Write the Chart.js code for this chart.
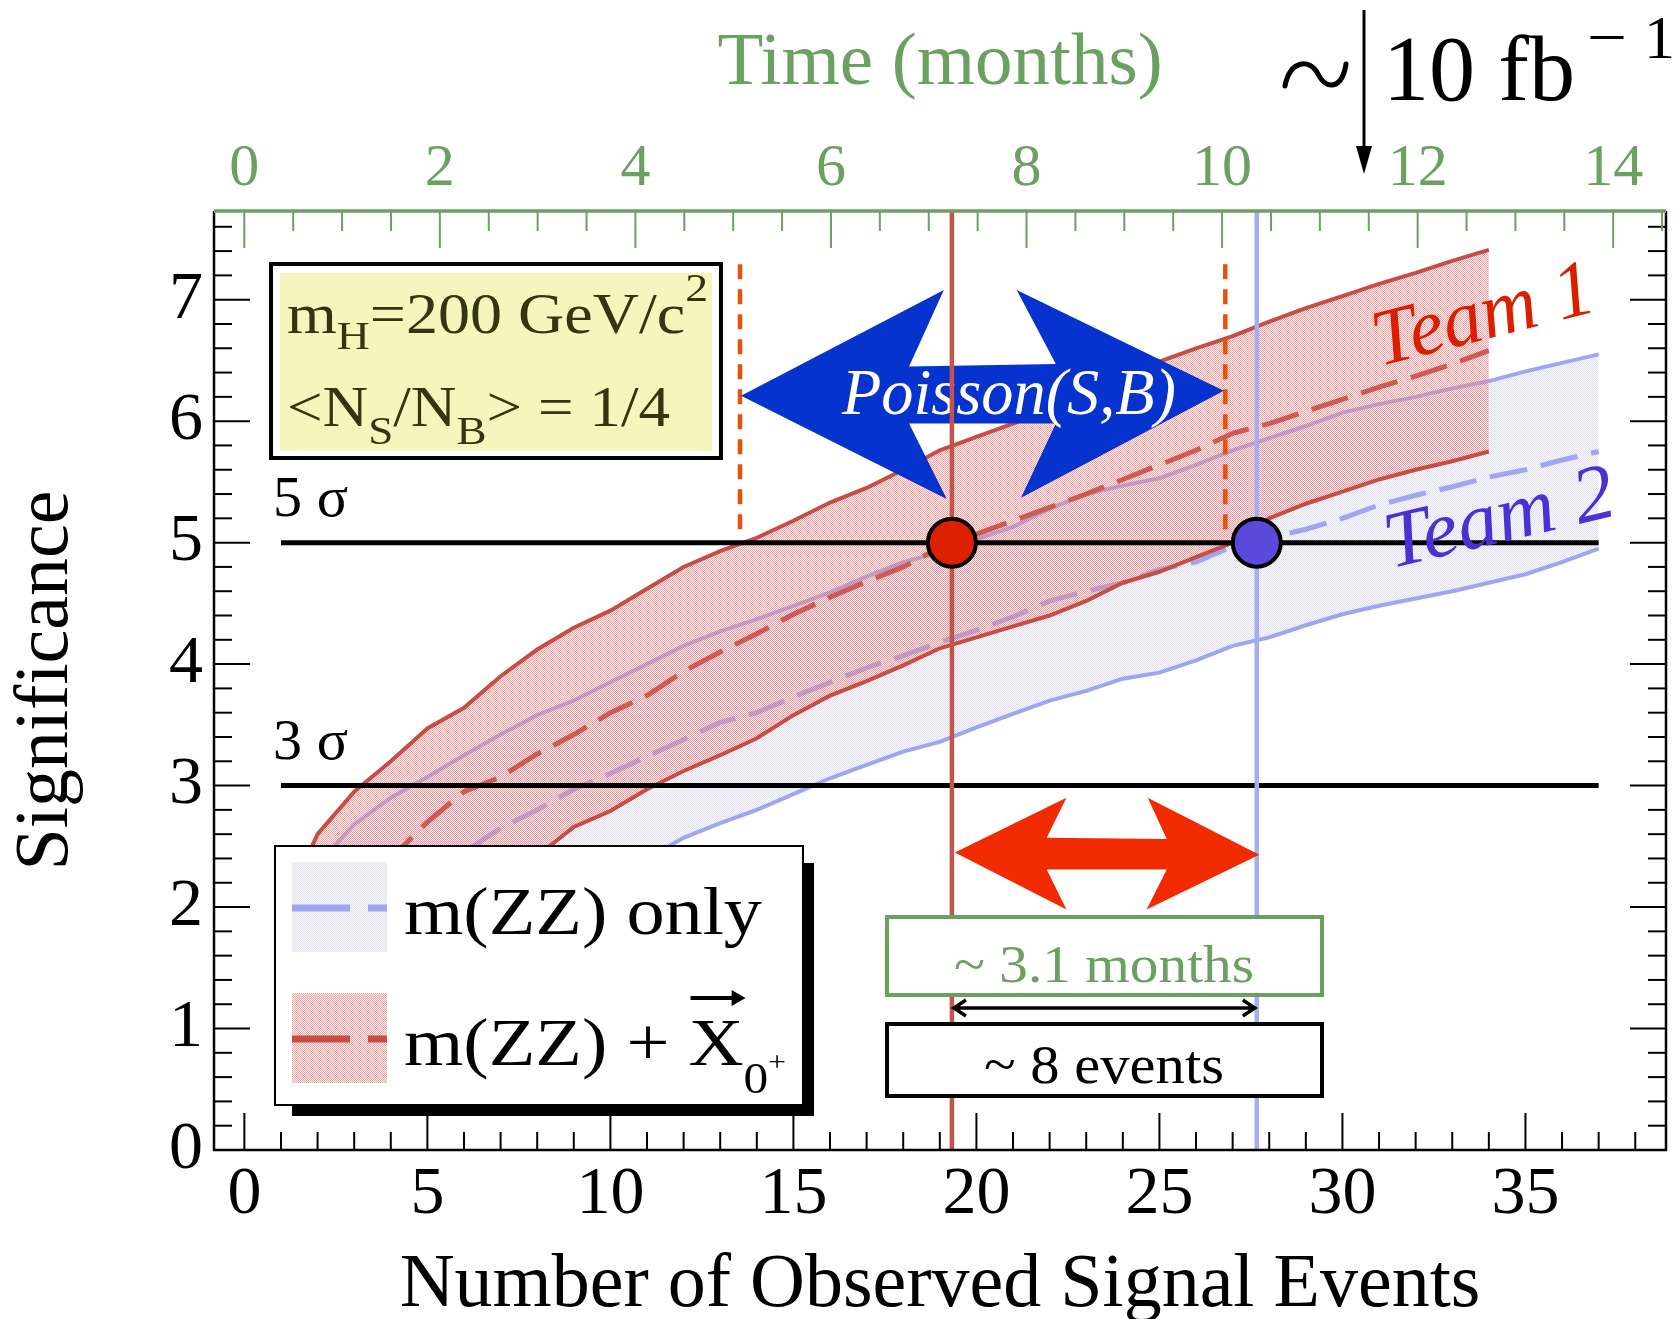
<!DOCTYPE html>
<html>
<head>
<meta charset="utf-8">
<title>Significance vs number of observed signal events</title>
<script src="https://cdn.jsdelivr.net/npm/chart.js@4.4.1/dist/chart.umd.min.js"></script>
<style>
  html, body { margin: 0; padding: 0; background: #fff; }
  #wrap { width: 1677px; height: 1319px; }
</style>
</head>
<body>
<div id="wrap"><canvas id="chart" width="1677" height="1319"></canvas></div>
<script>
// ---- data (x = observed signal events, y = significance) ----
const EVENTS_RED = [1,2,3,4,5,6,7,8,9,10,11,12,13,14,15,16,17,18,19,20,21,22,23,24,25,26,27,28,29,30,31,32,33,34];
const RED_UPPER  = [1.95,2.60,2.95,3.20,3.47,3.64,3.90,4.12,4.30,4.44,4.62,4.80,4.93,5.04,5.18,5.33,5.45,5.60,5.76,5.87,5.98,6.10,6.22,6.36,6.49,6.60,6.70,6.82,6.93,7.03,7.13,7.22,7.32,7.41];
const RED_MEDIAN = [1.40,1.75,2.10,2.40,2.70,2.95,3.07,3.26,3.42,3.60,3.74,3.94,4.10,4.25,4.41,4.55,4.68,4.80,4.96,5.07,5.18,5.29,5.40,5.52,5.64,5.76,5.90,5.98,6.08,6.18,6.28,6.37,6.47,6.58];
const RED_LOWER  = [0.90,1.15,1.40,1.60,1.80,2.00,2.20,2.42,2.66,2.79,2.97,3.12,3.25,3.39,3.58,3.74,3.86,3.99,4.13,4.22,4.31,4.40,4.52,4.67,4.76,4.88,5.00,5.20,5.32,5.42,5.52,5.60,5.67,5.75];

const EVENTS_BLUE = [1,2,3,4,5,6,7,8,9,10,11,12,13,14,15,16,17,18,19,20,21,22,23,24,25,26,27,28,29,30,31,32,33,34,35,36,37];
const BLUE_UPPER  = [1.85,2.35,2.68,2.90,3.07,3.25,3.42,3.58,3.70,3.85,4.00,4.15,4.27,4.37,4.48,4.59,4.72,4.84,4.92,5.03,5.13,5.28,5.40,5.47,5.53,5.64,5.76,5.86,5.96,6.07,6.14,6.20,6.27,6.33,6.41,6.48,6.55];
const BLUE_MEDIAN = [1.00,1.35,1.65,1.95,2.20,2.45,2.65,2.80,2.97,3.10,3.24,3.38,3.52,3.60,3.73,3.85,3.97,4.07,4.18,4.28,4.39,4.52,4.60,4.67,4.78,4.84,4.97,5.04,5.11,5.20,5.31,5.39,5.46,5.54,5.60,5.68,5.75];
const BLUE_LOWER  = [0.60,0.75,0.90,1.05,1.20,1.35,1.50,1.70,1.90,2.10,2.40,2.57,2.69,2.80,2.93,3.06,3.17,3.28,3.36,3.48,3.59,3.70,3.78,3.88,3.93,4.03,4.15,4.22,4.32,4.41,4.48,4.54,4.60,4.67,4.74,4.84,4.95];

const SIGMA_SPAN = [1, 37];          // events range of the 3/5 sigma lines
const CROSS_EVENTS = [19.33, 27.66]; // team 1 / team 2 reach 5 sigma
const POISSON_EDGES = [13.54, 26.8]; // orange dashed markers
const POISSON_SIG = [5.11, 7.36];

// double arrows (events, significance)
const POISSON_ARROW_X = [13.57, 19.11, 18.16, 22.17, 21.10, 26.76, 21.22, 22.17, 18.16, 19.19];
const POISSON_ARROW_Y = [6.21, 7.08, 6.45, 6.47, 7.08, 6.25, 5.37, 5.98, 5.98, 5.36];
const GAP_ARROW_X = [19.41, 22.46, 21.92, 25.20, 24.68, 27.73, 24.65, 25.20, 21.92, 22.46];
const GAP_ARROW_Y = [2.45, 2.90, 2.57, 2.56, 2.90, 2.43, 1.98, 2.31, 2.31, 1.98];

// axes
const EVENT_TICKS = [0, 5, 10, 15, 20, 25, 30, 35];
const MONTH_TICKS = [0, 2, 4, 6, 8, 10, 12, 14];
const SIG_TICKS = [0, 1, 2, 3, 4, 5, 6, 7];
const EV_MIN = -0.83, EV_MAX = 38.84;
const MO_MIN = -0.31, MO_MAX = 14.54;
const SIG_MAX = 7.73;

// ---- styles ----
const FONT = '"Liberation Serif", "Times New Roman", serif';
const GREEN = 'rgb(106,160,96)';
const RED_LINE = 'rgb(198,78,68)';
const BLUE_LINE = 'rgb(158,166,240)';

function dotPattern(dot, bg) {
  const c = document.createElement('canvas');
  c.width = 2; c.height = 2;
  const g = c.getContext('2d');
  g.fillStyle = bg; g.fillRect(0, 0, 2, 2);
  g.fillStyle = dot; g.fillRect(0, 0, 1, 1); g.fillRect(1, 1, 1, 1);
  return g.createPattern(c, 'repeat');
}
const RED_FILL = dotPattern('rgba(232,125,125,0.65)', 'rgba(240,175,175,0.2)');
const BLUE_FILL = dotPattern('rgba(214,214,232,0.7)', 'rgba(236,236,245,0.3)');

const pts = (xs, ys) => xs.map((x, i) => ({ x, y: ys[i] }));

function fitText(ctx, text, x, y, o) {
  ctx.save();
  ctx.font = `${o.style || ''} ${o.size}px ${FONT}`;
  const w = ctx.measureText(text).width;
  ctx.translate(x, y);
  if (o.rotate) ctx.rotate(o.rotate);
  ctx.scale(o.width ? o.width / w : 1, 1);
  ctx.fillStyle = o.color || '#000';
  ctx.textAlign = o.align || 'center';
  ctx.textBaseline = o.baseline || 'alphabetic';
  ctx.fillText(text, 0, 0);
  ctx.restore();
}

// draws runs of text (sub/superscripts) squeezed to a width, returns x extent of each run
function drawRuns(ctx, runs, x, y, width, color) {
  ctx.save();
  let total = 0;
  const widths = runs.map(r => {
    ctx.font = `${r.size}px ${FONT}`;
    const w = ctx.measureText(r.t).width;
    total += w;
    return w;
  });
  const sx = width / total;
  ctx.translate(x, y);
  ctx.scale(sx, 1);
  ctx.fillStyle = color;
  ctx.textBaseline = 'alphabetic';
  let cx = 0;
  const pos = [];
  runs.forEach((r, i) => {
    ctx.font = `${r.size}px ${FONT}`;
    pos.push([x + cx * sx, x + (cx + widths[i]) * sx]);
    ctx.fillText(r.t, cx, r.dy || 0);
    cx += widths[i];
  });
  ctx.restore();
  return pos;
}

const base = { showLine: true, pointRadius: 0, tension: 0, fill: false };

const datasets = [
  { ...base, label: 'm(ZZ) only +1σ', data: pts(EVENTS_BLUE, BLUE_UPPER), borderColor: BLUE_LINE, borderWidth: 4, fill: 1, backgroundColor: BLUE_FILL, order: 20 },
  { ...base, label: 'm(ZZ) only -1σ', data: pts(EVENTS_BLUE, BLUE_LOWER), borderColor: BLUE_LINE, borderWidth: 4, order: 19 },
  { ...base, label: 'm(ZZ) only', data: pts(EVENTS_BLUE, BLUE_MEDIAN), borderColor: BLUE_LINE, borderWidth: 5, borderDash: [38, 14], order: 18 },
  { ...base, label: 'm(ZZ)+X +1σ', data: pts(EVENTS_RED, RED_UPPER), borderColor: RED_LINE, borderWidth: 4, fill: 4, backgroundColor: RED_FILL, order: 17 },
  { ...base, label: 'm(ZZ)+X -1σ', data: pts(EVENTS_RED, RED_LOWER), borderColor: RED_LINE, borderWidth: 4, order: 16 },
  { ...base, label: 'm(ZZ)+X', data: pts(EVENTS_RED, RED_MEDIAN), borderColor: 'rgb(206,90,84)', borderWidth: 5, borderDash: [38, 14], order: 15 },
  { ...base, label: '5 sigma', data: pts(SIGMA_SPAN, [5, 5]), borderColor: '#000', borderWidth: 5, order: 14 },
  { ...base, label: '3 sigma', data: pts(SIGMA_SPAN, [3, 3]), borderColor: '#000', borderWidth: 5, order: 13 },
  { ...base, label: 'poisson low', data: pts([POISSON_EDGES[0], POISSON_EDGES[0]], POISSON_SIG), borderColor: 'rgb(228,82,12)', borderWidth: 4.5, borderDash: [15, 10], order: 12 },
  { ...base, label: 'poisson high', data: pts([POISSON_EDGES[1], POISSON_EDGES[1]], POISSON_SIG), borderColor: 'rgb(228,82,12)', borderWidth: 4.5, borderDash: [15, 10], order: 11 },
  { ...base, label: 'Poisson(S,B)', showLine: false, data: pts(POISSON_ARROW_X, POISSON_ARROW_Y), polyFill: 'rgb(6,50,205)', order: 10 },
  { ...base, label: 'team 1 line', data: pts([CROSS_EVENTS[0], CROSS_EVENTS[0]], [0, SIG_MAX]), borderColor: 'rgb(196,84,74)', borderWidth: 4.5, order: 9 },
  { ...base, label: 'team 2 line', data: pts([CROSS_EVENTS[1], CROSS_EVENTS[1]], [0, SIG_MAX]), borderColor: 'rgb(164,172,244)', borderWidth: 4.5, order: 8 },
  { ...base, label: 'gap', showLine: false, data: pts(GAP_ARROW_X, GAP_ARROW_Y), polyFill: 'rgb(242,42,0)', order: 7 },
  { ...base, label: 'team 1', showLine: false, data: pts([CROSS_EVENTS[0]], [5]), pointRadius: 24, pointBorderWidth: 4, pointBackgroundColor: 'rgb(220,32,0)', pointBorderColor: '#000', order: 6 },
  { ...base, label: 'team 2', showLine: false, data: pts([CROSS_EVENTS[1]], [5]), pointRadius: 24, pointBorderWidth: 4, pointBackgroundColor: 'rgb(90,74,220)', pointBorderColor: '#000', order: 5 }
];

// polygons (double arrows) are filled through the points laid out by the scales
const polygonPlugin = {
  id: 'polygons',
  afterDatasetDraw(chart, args) {
    const ds = chart.data.datasets[args.index];
    if (!ds.polyFill) return;
    const ctx = chart.ctx;
    const p = args.meta.data;
    ctx.save();
    ctx.beginPath();
    p.forEach((e, i) => (i ? ctx.lineTo(e.x, e.y) : ctx.moveTo(e.x, e.y)));
    ctx.closePath();
    ctx.fillStyle = ds.polyFill;
    ctx.fill();
    if (ds.label === 'Poisson(S,B)') {
      fitText(ctx, 'Poisson(S,B)', 1009, 414, { size: 66, width: 334, color: '#fff', style: 'italic' });
    }
    ctx.restore();
  }
};

// ROOT style inward ticks
const ticksPlugin = {
  id: 'rootTicks',
  beforeDatasetsDraw(chart) {
    const { ctx, chartArea: a, scales } = chart;
    const seg = (x1, y1, x2, y2) => { ctx.beginPath(); ctx.moveTo(x1, y1); ctx.lineTo(x2, y2); ctx.stroke(); };
    ctx.save();
    ctx.strokeStyle = '#000';
    ctx.lineWidth = 2;
    for (let v = 0; v <= 38; v++) {
      const x = scales.x.getPixelForValue(v);
      seg(x, a.bottom, x, a.bottom - (v % 5 === 0 ? 37 : 18));
    }
    for (let i = 0; i <= 38; i++) {
      const y = scales.y.getPixelForValue(i * 0.2);
      const len = i % 5 === 0 ? 36 : 18;
      seg(a.left, y, a.left + len, y);
      seg(a.right, y, a.right - len, y);
    }
    ctx.strokeStyle = GREEN;
    for (let i = 0; i <= 29; i++) {
      const x = scales.x2.getPixelForValue(i * 0.5);
      if (x < a.left || x > a.right) continue;
      seg(x, a.top, x, a.top + (i % 4 === 0 ? 37 : 20));
    }
    ctx.restore();
  }
};

const overlayPlugin = {
  id: 'overlay',
  afterDatasetsDraw(chart) {
    const { ctx, chartArea: a, scales } = chart;
    ctx.save();
    // frame
    ctx.strokeStyle = '#000';
    ctx.lineWidth = 2.5;
    ctx.beginPath();
    ctx.moveTo(a.left, a.top); ctx.lineTo(a.left, a.bottom);
    ctx.lineTo(a.right, a.bottom); ctx.lineTo(a.right, a.top);
    ctx.stroke();
    ctx.strokeStyle = GREEN;
    ctx.lineWidth = 3.5;
    ctx.beginPath(); ctx.moveTo(a.left, a.top); ctx.lineTo(a.right, a.top); ctx.stroke();

    // sigma labels
    [5, 3].forEach(s => {
      fitText(ctx, s + ' σ', 273, scales.y.getPixelForValue(s) - 27, { size: 56, width: 75, align: 'left' });
    });

    // parameter box
    ctx.fillStyle = '#fff';
    ctx.fillRect(269, 262, 454, 198);
    ctx.strokeStyle = '#000';
    ctx.lineWidth = 4;
    ctx.strokeRect(271, 264, 450, 194);
    ctx.fillStyle = 'rgb(247,245,190)';
    ctx.fillRect(280, 273, 432, 178);
    const olive = 'rgb(52,52,14)';
    drawRuns(ctx, [
      { t: 'm', size: 56 }, { t: 'H', size: 40, dy: 16 }, { t: '=200 GeV/c', size: 56 }, { t: '2', size: 40, dy: -32 }
    ], 287, 333, 421, olive);
    drawRuns(ctx, [
      { t: '<N', size: 56 }, { t: 'S', size: 40, dy: 18 }, { t: '/N', size: 56 }, { t: 'B', size: 40, dy: 18 }, { t: '> = 1/4', size: 56 }
    ], 287, 426, 383, olive);

    // legend
    ctx.fillStyle = '#000';
    ctx.fillRect(292, 863, 522, 253);
    ctx.fillStyle = '#fff';
    ctx.fillRect(275, 846, 528, 259);
    ctx.lineWidth = 2;
    ctx.strokeStyle = '#000';
    ctx.strokeRect(275, 846, 528, 259);
    ctx.fillStyle = BLUE_FILL; ctx.fillRect(292, 862, 95, 90);
    ctx.fillStyle = RED_FILL; ctx.fillRect(292, 993, 95, 90);
    ctx.lineWidth = 7;
    ctx.setLineDash([58, 18]);
    ctx.strokeStyle = BLUE_LINE;
    ctx.beginPath(); ctx.moveTo(292, 908); ctx.lineTo(387, 908); ctx.stroke();
    ctx.strokeStyle = RED_LINE;
    ctx.beginPath(); ctx.moveTo(292, 1039); ctx.lineTo(387, 1039); ctx.stroke();
    ctx.setLineDash([]);
    drawRuns(ctx, [{ t: 'm(ZZ) only', size: 68 }], 404, 934, 358, '#000');
    const pos = drawRuns(ctx, [
      { t: 'm(ZZ) + ', size: 68 }, { t: 'X', size: 68 }, { t: '0', size: 44, dy: 28 }, { t: '+', size: 28, dy: 6 }
    ], 404, 1065, 382, '#000');
    const [xs, xe] = pos[1];
    ctx.strokeStyle = '#000';
    ctx.fillStyle = '#000';
    ctx.lineWidth = 4;
    ctx.beginPath(); ctx.moveTo(xs + 2, 998); ctx.lineTo(xe - 4, 998); ctx.stroke();
    ctx.beginPath(); ctx.moveTo(xe + 2, 998); ctx.lineTo(xe - 12, 990); ctx.lineTo(xe - 12, 1006); ctx.closePath();
    ctx.fill();

    // gap boxes
    ctx.fillStyle = '#fff';
    ctx.fillRect(885, 915, 439, 82);
    ctx.strokeStyle = GREEN; ctx.lineWidth = 4;
    ctx.strokeRect(887, 917, 435, 78);
    fitText(ctx, '~ 3.1 months', 1104, 982, { size: 52, width: 300, color: GREEN });
    ctx.fillStyle = '#fff';
    ctx.fillRect(885, 1022, 439, 76);
    ctx.strokeStyle = '#000';
    ctx.strokeRect(887, 1024, 435, 72);
    fitText(ctx, '~ 8 events', 1104, 1083, { size: 54, width: 240 });
    // small double arrow between the boxes
    const x1 = scales.x.getPixelForValue(CROSS_EVENTS[0]), x2 = scales.x.getPixelForValue(CROSS_EVENTS[1]);
    ctx.lineWidth = 3.5;
    ctx.beginPath();
    ctx.moveTo(x1 + 2, 1008); ctx.lineTo(x2 - 2, 1008);
    ctx.moveTo(x1 + 14, 1000); ctx.lineTo(x1 + 2, 1008); ctx.lineTo(x1 + 14, 1016);
    ctx.moveTo(x2 - 14, 1000); ctx.lineTo(x2 - 2, 1008); ctx.lineTo(x2 - 14, 1016);
    ctx.stroke();

    // team labels
    fitText(ctx, 'Team 1', 1484, 318, { size: 80, width: 226, color: 'rgb(218,30,0)', style: 'italic', rotate: -0.25, baseline: 'middle' });
    fitText(ctx, 'Team 2', 1500, 521, { size: 80, width: 234, color: 'rgb(72,50,210)', style: 'italic', rotate: -0.23, baseline: 'middle' });

    // luminosity marker
    ctx.strokeStyle = '#000';
    ctx.fillStyle = '#000';
    ctx.lineWidth = 5;
    ctx.lineCap = 'round';
    ctx.beginPath();
    ctx.moveTo(1285, 86);
    ctx.bezierCurveTo(1290, 60, 1310, 58, 1318, 74);
    ctx.bezierCurveTo(1326, 90, 1342, 90, 1346, 64);
    ctx.stroke();
    ctx.lineCap = 'butt';
    ctx.lineWidth = 3;
    ctx.beginPath(); ctx.moveTo(1364, 10); ctx.lineTo(1364, 155); ctx.stroke();
    ctx.beginPath(); ctx.moveTo(1356, 146); ctx.lineTo(1372, 146); ctx.lineTo(1364, 174); ctx.closePath();
    ctx.fill();
    fitText(ctx, '10 fb', 1383, 100, { size: 93, width: 192, align: 'left' });
    fitText(ctx, '\u2212', 1587, 58, { size: 62, width: 40, align: 'left' });
    fitText(ctx, '1', 1644, 58, { size: 62, align: 'left' });
    ctx.restore();
  }
};

Chart.defaults.font.family = FONT;

const noPadX = s => { s.paddingLeft = 0; s.paddingRight = 0; };

new Chart(document.getElementById('chart'), {
  type: 'line',
  data: { datasets },
  options: {
    responsive: false,
    animation: false,
    events: [],
    layout: { autoPadding: false, padding: { left: 0, right: 11, top: 0, bottom: 0 } },
    plugins: { legend: { display: false }, tooltip: { enabled: false } },
    scales: {
      x: {
        type: 'linear', position: 'bottom', min: EV_MIN, max: EV_MAX,
        afterBuildTicks: s => { s.ticks = EVENT_TICKS.map(v => ({ value: v })); },
        afterFit: s => { s.height = 169; noPadX(s); },
        grid: { display: false, drawTicks: false },
        border: { display: false },
        ticks: { autoSkip: false, maxRotation: 0, padding: 11, color: '#000', font: { size: 68, lineHeight: 1 } },
        title: { display: true, text: 'Number of Observed Signal Events', color: '#000', font: { size: 76, lineHeight: 0.88 }, padding: { top: 0, bottom: 0 } }
      },
      x2: {
        type: 'linear', position: 'top', min: MO_MIN, max: MO_MAX,
        afterBuildTicks: s => { s.ticks = MONTH_TICKS.map(v => ({ value: v })); },
        afterFit: s => { s.height = 211; noPadX(s); },
        grid: { display: false, drawTicks: false },
        border: { display: false },
        ticks: { autoSkip: false, maxRotation: 0, padding: 12, color: GREEN, font: { size: 60, lineHeight: 1 } },
        title: { display: true, text: 'Time (months)', color: GREEN, font: { size: 75, lineHeight: 1 }, padding: { top: 27, bottom: 0 } }
      },
      y: {
        type: 'linear', position: 'left', min: 0, max: SIG_MAX,
        afterBuildTicks: s => { s.ticks = SIG_TICKS.map(v => ({ value: v })); },
        afterFit: s => { s.width = 214; s.paddingTop = 0; s.paddingBottom = 0; },
        grid: { display: false, drawTicks: false },
        border: { display: false },
        ticks: { autoSkip: false, padding: 11, color: '#000', font: { size: 68, lineHeight: 1 } },
        title: { display: true, text: 'Significance', color: '#000', font: { size: 76, lineHeight: 1 }, padding: { top: 9, bottom: 0 } }
      }
    }
  },
  plugins: [ticksPlugin, polygonPlugin, overlayPlugin]
});
</script>
</body>
</html>
